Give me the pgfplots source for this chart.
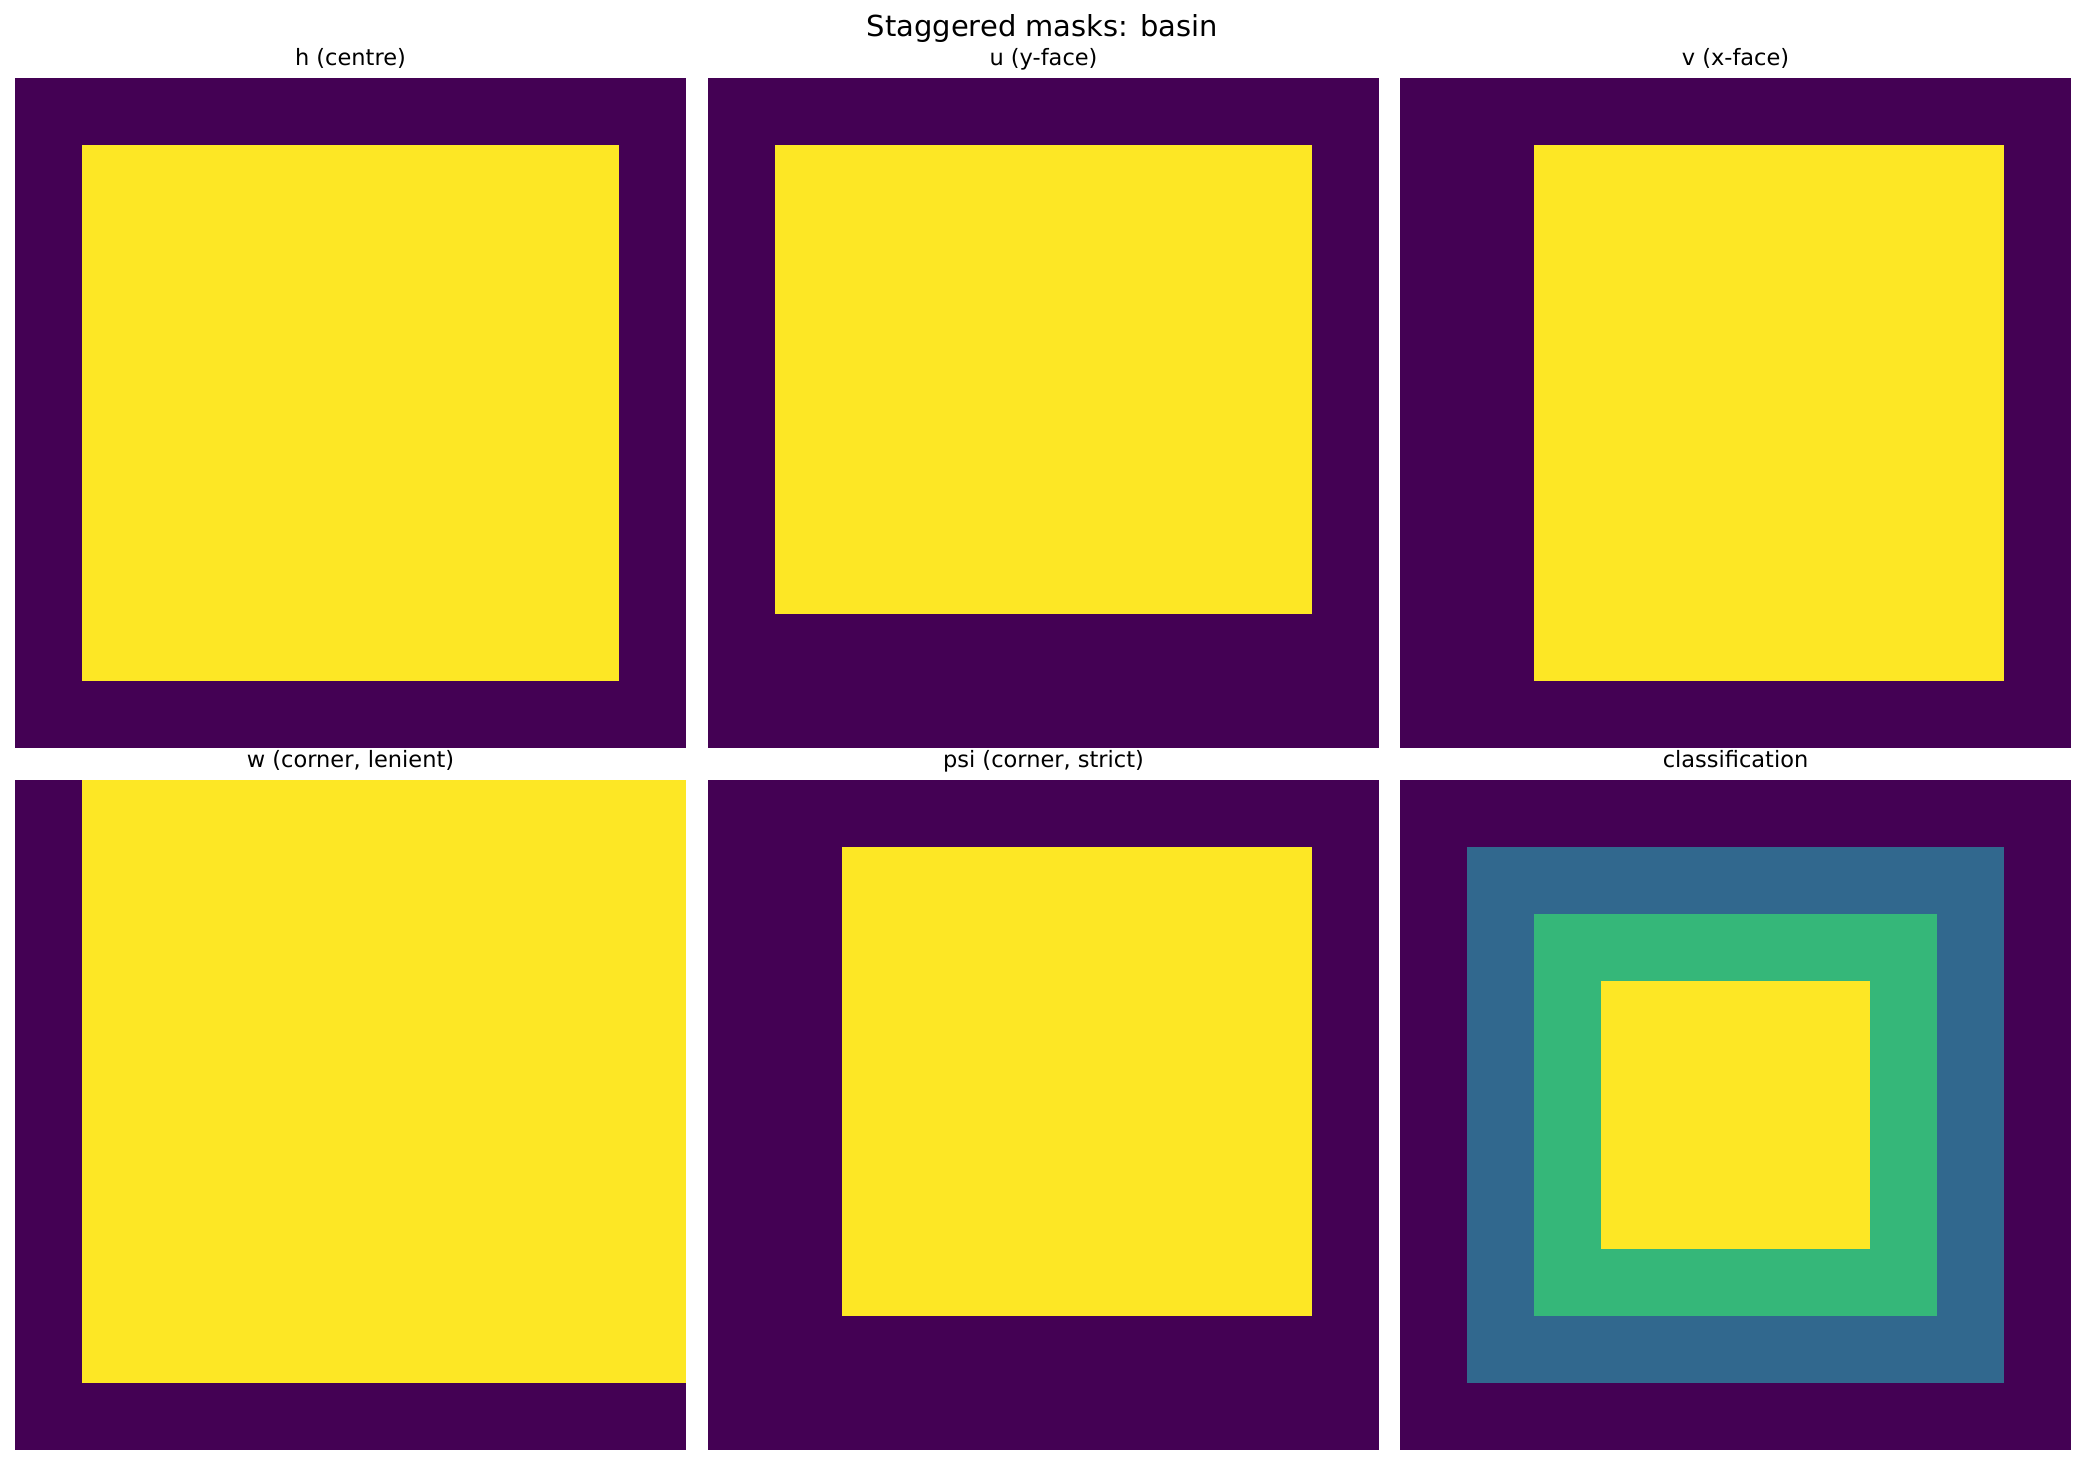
\documentclass[border=0pt]{standalone}
\usepackage{pgfplots}
\pgfplotsset{compat=1.18}
\usepackage{fontspec}
\setmainfont{DejaVu Sans}

% viridis levels
\definecolor{vir0}{HTML}{440154}
\definecolor{vir1}{HTML}{31688E}
\definecolor{vir2}{HTML}{35B779}
\definecolor{vir3}{HTML}{FDE725}

% one image panel, 10x10 cells, origin upper left like imshow
\pgfplotsset{
  mask/.style={
    scale only axis,
    width=322.08bp, height=321.6bp,
    xmin=0, xmax=10, ymin=0, ymax=10,
    y dir=reverse,
    axis lines=none,
    xtick=\empty, ytick=\empty,
    anchor=south west,
    every axis title/.style={at={(0.5,1)}, anchor=base, yshift=5.9bp,
      font=\fontsize{10.8bp}{13bp}\selectfont},
  },
  cell/.style={draw=none, fill=#1, mark=none},
}

\begin{document}
\begin{tikzpicture}
\path[use as bounding box] (0,0) rectangle (1000.8bp,703.2bp);
\node[anchor=base, font=\fontsize{13.9bp}{16bp}\selectfont] at (500.4bp,685.6bp) {Staggered masks: basin};

% top row
\begin{axis}[mask, at={(7.2bp,344.16bp)}, title={h (centre)}]
\addplot[cell=vir0] coordinates {(0,0) (10,0) (10,10) (0,10)} -- cycle;
\addplot[cell=vir3] coordinates {(1,1) (9,1) (9,9) (1,9)} -- cycle;
\end{axis}

\begin{axis}[mask, at={(339.84bp,344.16bp)}, title={u (y-face)}]
\addplot[cell=vir0] coordinates {(0,0) (10,0) (10,10) (0,10)} -- cycle;
\addplot[cell=vir3] coordinates {(1,1) (9,1) (9,8) (1,8)} -- cycle;
\end{axis}

\begin{axis}[mask, at={(672bp,344.16bp)}, title={v (x-face)}]
\addplot[cell=vir0] coordinates {(0,0) (10,0) (10,10) (0,10)} -- cycle;
\addplot[cell=vir3] coordinates {(2,1) (9,1) (9,9) (2,9)} -- cycle;
\end{axis}

% bottom row
\begin{axis}[mask, at={(7.2bp,7.2bp)}, title={w (corner, lenient)}]
\addplot[cell=vir0] coordinates {(0,0) (10,0) (10,10) (0,10)} -- cycle;
\addplot[cell=vir3] coordinates {(1,0) (10,0) (10,9) (1,9)} -- cycle;
\end{axis}

\begin{axis}[mask, at={(339.84bp,7.2bp)}, title={psi (corner, strict)}]
\addplot[cell=vir0] coordinates {(0,0) (10,0) (10,10) (0,10)} -- cycle;
\addplot[cell=vir3] coordinates {(2,1) (9,1) (9,8) (2,8)} -- cycle;
\end{axis}

\begin{axis}[mask, at={(672bp,7.2bp)}, title={classification}]
\addplot[cell=vir0] coordinates {(0,0) (10,0) (10,10) (0,10)} -- cycle;
\addplot[cell=vir1] coordinates {(1,1) (9,1) (9,9) (1,9)} -- cycle;
\addplot[cell=vir2] coordinates {(2,2) (8,2) (8,8) (2,8)} -- cycle;
\addplot[cell=vir3] coordinates {(3,3) (7,3) (7,7) (3,7)} -- cycle;
\end{axis}
\end{tikzpicture}
\end{document}
